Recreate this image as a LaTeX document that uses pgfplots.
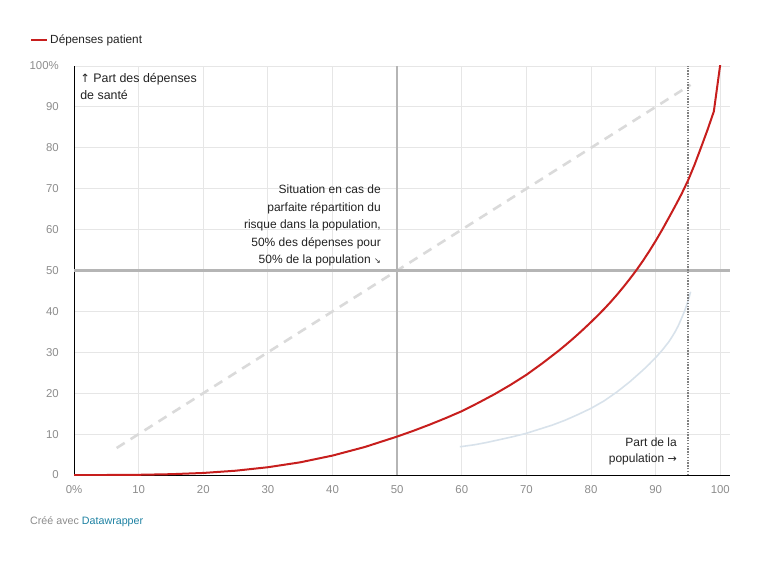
\documentclass[border=0pt]{standalone}
\usepackage{fontspec}
\setmainfont{Liberation Sans}
\newfontfamily\arrowfont{DejaVu Sans}
\usepackage{pgfplots}
\pgfplotsset{compat=1.18}

\definecolor{redline}{HTML}{C71E1D}
\definecolor{dashgray}{HTML}{DADADA}
\definecolor{paleblue}{HTML}{D8E2EB}
\definecolor{refgray}{HTML}{B5B5B5}
\definecolor{dotgray}{HTML}{808080}
\definecolor{gridc}{HTML}{E6E6E6}
\definecolor{ticktxt}{HTML}{8C8C8C}
\definecolor{txt}{HTML}{222222}
\definecolor{dwblue}{HTML}{1D81A2}

\begin{document}
\begin{tikzpicture}[x=1pt,y=1pt]
  \path[use as bounding box] (0,0) rectangle (760,563);
  \begin{axis}[
    at={(74pt,88pt)}, anchor=south west,
    scale only axis,
    width=656pt, height=409pt,
    xmin=0, xmax=101.5, ymin=0, ymax=100,
    axis lines=left,
    axis line style={black, line width=1pt, -},
    xtick={0,10,...,100},
    xticklabels={0\%,10,20,30,40,50,60,70,80,90,100},
    ytick={0,10,...,100},
    yticklabels={0,10,20,30,40,50,60,70,80,90,100\%},
    major tick length=0pt,
    /pgf/number format/assume math mode=true,
    tick label style={font=\fontsize{11.4}{13}\selectfont, text=ticktxt, inner sep=0pt},
    xticklabel style={yshift=-10pt},
    yticklabel style={xshift=-15pt},
    grid=major,
    grid style={gridc, line width=0.8pt},
    clip=true,
    legend style={at={(axis description cs:-0.067,1.082)}, anchor=north west,
      draw=none, fill=none, inner sep=0pt,
      font=\fontsize{11.8}{14}\selectfont, text=txt},
    legend image code/.code={\draw[#1, line width=2pt] (0pt,0pt) -- (16pt,0pt);},
    legend cell align=left,
  ]
    % diagonal of perfect distribution
    \addplot[dashgray, line width=2.6pt, dash pattern=on 9.5pt off 7pt, forget plot]
      coordinates {(6.6,6.6) (95.4,95.4)};
    % pale second curve
    \addplot[paleblue, line width=1.6pt, line join=round, forget plot] coordinates {
      (59.7,6.9) (62,7.4) (64,8) (66,8.7) (68,9.4) (70,10.2) (72,11.2) (74,12.2)
      (76,13.4) (78,14.8) (80,16.3) (82,18.1) (84,20.3) (86,22.8) (87,24.2)
      (88,25.6) (89,27.1) (90,28.7) (91,30.5) (92,32.5) (92.5,33.7) (93,35.0)
      (93.5,36.5) (94,38.3) (94.5,40.2) (95,42.5) (95.4,44.8)};
    % reference lines at 50
    \addplot[refgray, line width=2.6pt, forget plot] coordinates {(50,0) (50,100)};
    \addplot[refgray, line width=2.6pt, forget plot] coordinates {(0,50) (101.5,50)};
    % 95% marker
    \addplot[dotgray, line width=1.4pt, dash pattern=on 1.4pt off 1.4pt, forget plot]
      coordinates {(95,0) (95,100)};
    % patient spending curve
    \addplot[redline, line width=2pt, line join=round] coordinates {
      (0,0) (5,0) (10,0.05) (15,0.2) (20,0.5) (25,1.05) (30,1.9) (35,3.1)
      (40,4.75) (45,6.85) (50,9.4) (52.5,10.8) (55,12.3) (57.5,13.9) (60,15.6)
      (62.5,17.6) (65,19.7) (67.5,22.0) (70,24.5) (72.5,27.35) (75,30.4)
      (76,31.7) (77,33.05) (78,34.45) (79,35.9) (80,37.4) (81,38.95) (82,40.55)
      (83,42.25) (84,44.05) (85,45.95) (86,47.95) (87,50.05) (88,52.3) (89,54.7)
      (90,57.25) (91,59.95) (92,62.8) (93,65.7) (94,68.7) (95,72.0) (96,75.8)
      (97,80.0) (98,84.3) (98.5,86.6) (99,88.9) (100,100.5)};
    \addlegendentry{Dépenses patient}

    \node[anchor=north west, align=left, inner sep=0pt, text=txt,
      font=\fontsize{12.4}{17}\selectfont]
      at (axis cs:0.95,98.2) {{\arrowfont\fontsize{11.5}{17}\selectfont ↑} Part des dépenses\\de santé};
    \node[anchor=north east, align=right, inner sep=0pt, text=txt,
      font=\fontsize{12}{17.4}\selectfont]
      at (axis cs:47.5,70.9) {Situation en cas de\\parfaite répartition du\\risque dans la population,\\50\% des dépenses pour\\50\% de la population {\arrowfont\fontsize{8}{17}\selectfont ↘}};
    \node[anchor=south east, align=right, inner sep=0pt, text=txt,
      font=\fontsize{12}{16.8}\selectfont]
      at (axis cs:93.3,2.3) {Part de la\\population {\arrowfont\fontsize{11}{16}\selectfont →}};
  \end{axis}
  \node[anchor=west, inner sep=0pt, font=\fontsize{10.7}{13}\selectfont, text=ticktxt]
    at (30,41.5) {Créé avec \textcolor{dwblue}{Datawrapper}};
\end{tikzpicture}
\end{document}
